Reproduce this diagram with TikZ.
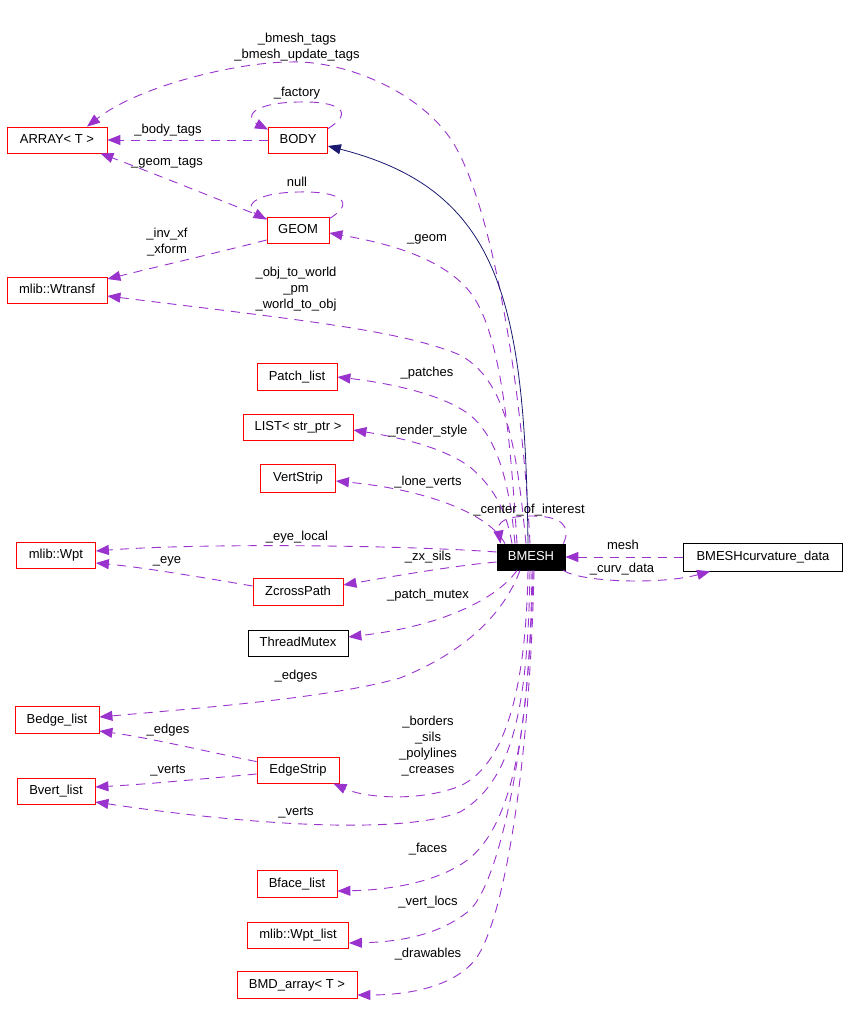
\documentclass[tikz,border=0pt]{standalone}
\usepackage{fontspec}
\setmainfont{Liberation Sans}
\usetikzlibrary{arrows.meta,calc}
\definecolor{dorchid}{HTML}{9A32CD}
\definecolor{mnavy}{HTML}{191970}
\begin{document}
\begin{tikzpicture}[x=1pt,y=-1pt,
  fnt/.style={font=\fontsize{13}{16}\selectfont},
  txt/.style={fnt, text height=9.5pt, text depth=3pt},
  cls/.style={txt, draw=red, line width=0.8pt, fill=white, inner sep=0pt, minimum height=26pt},
  blk/.style={cls, draw=black},
  lbl/.style={txt, inner sep=0pt, align=center},
  lblm/.style={fnt, inner sep=0pt, align=center},
  dep/.style={draw=dorchid, line width=0.9pt, dash pattern=on 9pt off 7pt, -{Triangle[length=13pt,width=10pt,fill=dorchid]}},
  inh/.style={draw=mnavy, line width=0.8pt, -{Triangle[length=13pt,width=10pt,fill=mnavy]}}]
\useasboundingbox (0,0) rectangle (848,1015);
% class nodes
\node[cls, minimum width=100pt] (array) at (57,140) {ARRAY< T >};
\node[cls, minimum width=59pt] (body) at (298,140) {BODY};
\node[cls, minimum width=62pt] (geom) at (298,230) {GEOM};
\node[cls, minimum width=100pt] (wtransf) at (57,290) {mlib::Wtransf};
\node[cls, minimum width=80pt, minimum height=27pt] (patchlist) at (297,377) {Patch\_list};
\node[cls, minimum width=110pt] (list) at (298,427) {LIST< str\_ptr >};
\node[cls, minimum width=75pt, minimum height=28pt] (vertstrip) at (298,478) {VertStrip};
\node[cls, minimum width=79pt] (wpt) at (56,555) {mlib::Wpt};
\node[cls, minimum width=90pt, minimum height=27pt] (zcross) at (298,592) {ZcrossPath};
\node[blk, minimum width=100pt] (threadmutex) at (298,643) {ThreadMutex};
\node[cls, minimum width=84pt, minimum height=27pt] (bedge) at (57,720) {Bedge\_list};
\node[cls, minimum width=82pt] (edgestrip) at (298,770) {EdgeStrip};
\node[cls, minimum width=78pt] (bvert) at (56,791) {Bvert\_list};
\node[cls, minimum width=80pt, minimum height=27pt] (bface) at (297,884) {Bface\_list};
\node[cls, minimum width=101pt] (wptlist) at (298,935) {mlib::Wpt\_list};
\node[cls, minimum width=120pt, minimum height=27pt] (bmd) at (297,985) {BMD\_array< T >};
\node[blk, fill=black, text=white, minimum width=68pt] (bmesh) at (531,557) {BMESH};
\node[blk, minimum width=159pt, minimum height=28pt] (curv) at (763,557) {BMESHcurvature\_data};
% connectors
\draw[dep] ($(bmesh.north)+(-1,0)$) .. controls (522,380) and (490,195) .. (450,138) .. controls (415,88) and (340,60) .. (290,62) .. controls (240,62) and (140,85) .. ($(array.north)+(30,0)$);
\draw[dep] (body.west) -- (array.east);
\draw[dep] ($(body.north east)+(0,2)$) .. controls (355,112) and (340,101) .. (298,102) .. controls (250,103) and (245,118) .. ($(body.north west)+(0,3)$);
\draw[dep] ($(geom.north west)+(0,2)$) .. controls (215,198) and (150,172) .. ($(array.south east)+(-7,0)$);
\draw[dep] ($(geom.north east)+(0,2)$) .. controls (357,202) and (340,191) .. (298,192) .. controls (250,193) and (245,208) .. ($(geom.north west)+(0,3)$);
\draw[dep] ($(geom.west)+(0,10)$) .. controls (220,252) and (160,266) .. ($(wtransf.east)+(0,-11)$);
\draw[dep] ($(bmesh.north)+(-5,0)$) .. controls (516,440) and (505,380) .. (460,355) .. controls (400,330) and (300,320) .. ($(wtransf.east)+(0,6)$);
\draw[dep] ($(bmesh.north)+(-14,0)$) .. controls (510,430) and (500,330) .. (470,292) .. controls (440,255) and (380,242) .. ($(geom.east)+(0,3)$);
\draw[dep] ($(bmesh.north)+(-16,0)$) .. controls (510,490) and (500,440) .. (470,415) .. controls (440,392) and (380,382) .. (patchlist.east);
\draw[dep] ($(bmesh.north)+(-19,0)$) .. controls (507,515) and (497,490) .. (470,467) .. controls (440,445) and (390,436) .. ($(list.east)+(0,3)$);
\draw[dep] ($(bmesh.north)+(-26,0)$) .. controls (490,515) and (430,490) .. ($(vertstrip.east)+(0,3)$);
\draw[dep] ($(bmesh.north east)+(-2,0)$) .. controls (572,525) and (560,516) .. (532,516) .. controls (505,516) and (497,522) .. ($(bmesh.north west)+(4,0)$);
\draw[dep] ($(bmesh.west)+(0,-5)$) .. controls (400,545) and (200,543) .. ($(wpt.east)+(0,-4)$);
\draw[dep] ($(zcross.west)+(0,-6)$) .. controls (200,577) and (140,567) .. ($(wpt.east)+(0,8)$);
\draw[dep] ($(bmesh.west)+(0,5)$) .. controls (460,565) and (400,575) .. ($(zcross.east)+(0,-7)$);
\draw[dep] ($(bmesh.south)+(-14,0)$) .. controls (500,595) and (450,625) .. ($(threadmutex.east)+(0,-6)$);
\draw[dep] (curv.west) -- (bmesh.east);
\draw[dep] ($(bmesh.south east)+(-2,0)$) .. controls (580,582) and (660,585) .. ($(curv.south west)+(27,0)$);
\draw[dep] ($(bmesh.south)+(-11,0)$) .. controls (505,610) and (470,650) .. (400,678) .. controls (330,698) and (200,708) .. ($(bedge.east)+(0,-3)$);
\draw[dep] ($(edgestrip.north west)+(0,5)$) .. controls (200,750) and (150,738) .. ($(bedge.east)+(0,11)$);
\draw[dep] ($(edgestrip.west)+(0,4)$) .. controls (200,779) and (150,784) .. ($(bvert.east)+(0,-4)$);
\draw[dep] ($(bmesh.south)+(-3,0)$) .. controls (526,690) and (505,765) .. (460,786) .. controls (420,802) and (365,798) .. ($(edgestrip.south east)+(-6,0)$);
\draw[dep] ($(bmesh.south)+(-1,0)$) .. controls (528,700) and (515,780) .. (460,812) .. controls (400,835) and (250,825) .. ($(bvert.east)+(0,11)$);
\draw[dep] ($(bmesh.south)+(1,0)$) .. controls (530,720) and (515,820) .. (470,858) .. controls (440,882) and (390,890) .. ($(bface.east)+(0,7)$);
\draw[dep] ($(bmesh.south)+(2,0)$) .. controls (530,740) and (500,880) .. (470,910) .. controls (440,935) and (400,942) .. ($(wptlist.east)+(0,8)$);
\draw[dep] ($(bmesh.south)+(3,0)$) .. controls (530,760) and (505,920) .. (475,960) .. controls (450,990) and (400,995) .. ($(bmd.east)+(0,10)$);
\draw[inh] ($(bmesh.north)+(-3,0)$) .. controls (525,300) and (500,190) .. ($(body.east)+(0,6)$);
% labels
\node[lblm] (l1) at (297,47) {\_bmesh\_tags\\\_bmesh\_update\_tags};
\node[lbl] (l2) at (168,130) {\_body\_tags};
\node[lbl] (l3) at (297,93) {\_factory};
\node[lbl] (l4) at (167,162) {\_geom\_tags};
\node[lbl] (l5) at (297,183) {null};
\node[lblm] (l6) at (167,242) {\_inv\_xf\\\_xform};
\node[lblm] (l7) at (296,289) {\_obj\_to\_world\\\_pm\\\_world\_to\_obj};
\node[lbl] (l8) at (427,238) {\_geom};
\node[lbl] (l9) at (427,373) {\_patches};
\node[lbl] (l10) at (428,431) {\_render\_style};
\node[lbl] (l11) at (428,482) {\_lone\_verts};
\node[lbl] (l12) at (529,510) {\_center\_of\_interest};
\node[lbl] (l13) at (297,537) {\_eye\_local};
\node[lbl] (l14) at (167,560) {\_eye};
\node[lbl] (l15) at (428,557) {\_zx\_sils};
\node[lbl] (l16) at (428,595) {\_patch\_mutex};
\node[lbl] (l17) at (623,546) {mesh};
\node[lbl] (l18) at (622,569) {\_curv\_data};
\node[lbl] (l19) at (296,676) {\_edges};
\node[lbl] (l20) at (168,730) {\_edges};
\node[lbl] (l21) at (168,770) {\_verts};
\node[lblm] (l22) at (428,746) {\_borders\\\_sils\\\_polylines\\\_creases};
\node[lbl] (l23) at (296,812) {\_verts};
\node[lbl] (l24) at (428,849) {\_faces};
\node[lbl] (l25) at (428,902) {\_vert\_locs};
\node[lbl] (l26) at (428,954) {\_drawables};
\end{tikzpicture}
\end{document}
